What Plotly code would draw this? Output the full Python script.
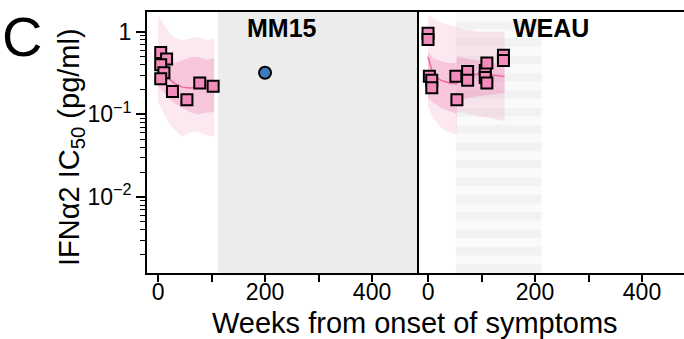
import plotly.graph_objects as go

# ---------------- data ----------------
# MM15 (left panel) measurements
mm15_weeks = [5, 16, 5, 11, 5, 27, 54, 78, 103]
mm15_ic50 = [0.56, 0.47, 0.40, 0.32, 0.27, 0.19, 0.15, 0.24, 0.22]
mm15_other_weeks = [200]
mm15_other_ic50 = [0.32]

# MM15 model bands
mm15_band_weeks = [0, 10, 20, 30, 45, 60, 75, 90, 105]
mm15_outer_hi = [1.58, 1.26, 1.00, 0.85, 0.79, 0.83, 0.87, 0.79, 0.83]
mm15_outer_lo = [0.141, 0.105, 0.079, 0.066, 0.054, 0.060, 0.062, 0.056, 0.054]
mm15_inner_hi = [0.63, 0.50, 0.43, 0.42, 0.45, 0.49, 0.50, 0.46, 0.48]
mm15_inner_lo = [0.22, 0.19, 0.158, 0.138, 0.120, 0.107, 0.100, 0.105, 0.107]
mm15_mean = [0.355, 0.31, 0.27, 0.24, 0.214, 0.209, 0.214, 0.224, 0.229]

# WEAU (right panel) measurements
weau_weeks = [0, 0, 2.5, 7, 7, 52, 54, 74, 74, 107, 110, 107, 110, 141, 141]
weau_ic50 = [0.96, 0.81, 0.29, 0.26, 0.21, 0.29, 0.15, 0.33, 0.26, 0.34, 0.42,
             0.28, 0.24, 0.52, 0.45]

# WEAU model bands
weau_band_weeks = [0, 10, 25, 40, 53, 55, 75, 95, 115, 143]
weau_outer_hi = [1.60, 1.45, 1.30, 1.20, 1.15, 1.10, 1.05, 1.00, 1.00, 1.00]
weau_outer_lo = [0.126, 0.089, 0.068, 0.060, 0.058, 0.107, 0.102, 0.095, 0.089, 0.083]
weau_inner_hi = [0.56, 0.48, 0.44, 0.42, 0.42, 0.50, 0.47, 0.45, 0.42, 0.40]
weau_inner_lo = [0.158, 0.138, 0.120, 0.110, 0.102, 0.148, 0.158, 0.166, 0.174, 0.182]
weau_mean = [0.50, 0.295, 0.257, 0.24, 0.234, 0.263, 0.295, 0.309, 0.302, 0.288]

# shaded periods (weeks)
mm15_grey_start = 112
weau_stripe_start = 52
weau_stripe_end = 212

panel_titles = ["MM15", "WEAU"]
x_tickvals = [0, 200, 400]
x_ticktext = ["0", "200", "400"]
x_minor_tickvals = [100, 300]
y_tickvals = [0.01, 0.1, 1]
y_ticktext = ["10<sup>\u22122</sup>", "10<sup>\u22121</sup>", "1"]

# ---------------- styling ----------------
FONT = "Liberation Sans, Arial, sans-serif"
PINK = "#f28cba"
PINK_LINE = "#ec6aa3"
OUTER_FILL = "rgba(236,100,160,0.15)"
INNER_FILL = "rgba(236,100,160,0.25)"
BLUE = "#3a7cc0"

X_RANGE_L = [-20.6, 484]
X_RANGE_R = [-20.6, 478.5]
Y_RANGE = [-2.92, 0.24]
split = 270 / 537

fig = go.Figure()


def add_band(x, lo, hi, color, xa, ya):
    fig.add_trace(go.Scatter(x=list(x) + list(x)[::-1], y=list(hi) + list(lo)[::-1],
                             fill="toself", fillcolor=color, mode="lines",
                             line=dict(width=0), hoverinfo="skip", showlegend=False,
                             xaxis=xa, yaxis=ya))


for (bx, olo, ohi, ilo, ihi, mn, xa, ya) in [
    (mm15_band_weeks, mm15_outer_lo, mm15_outer_hi, mm15_inner_lo, mm15_inner_hi, mm15_mean, "x", "y"),
    (weau_band_weeks, weau_outer_lo, weau_outer_hi, weau_inner_lo, weau_inner_hi, weau_mean, "x2", "y2"),
]:
    add_band(bx, olo, ohi, OUTER_FILL, xa, ya)
    add_band(bx, ilo, ihi, INNER_FILL, xa, ya)
    fig.add_trace(go.Scatter(x=bx, y=mn, mode="lines", line=dict(color=PINK_LINE, width=1.5),
                             showlegend=False, xaxis=xa, yaxis=ya))

sq = dict(symbol="square", size=11, color=PINK, line=dict(color="black", width=2))
fig.add_trace(go.Scatter(x=mm15_weeks, y=mm15_ic50, mode="markers", marker=sq,
                         showlegend=False, xaxis="x", yaxis="y"))
fig.add_trace(go.Scatter(x=mm15_other_weeks, y=mm15_other_ic50, mode="markers",
                         marker=dict(symbol="circle", size=12, color=BLUE,
                                     line=dict(color="black", width=2)),
                         showlegend=False, xaxis="x", yaxis="y"))
fig.add_trace(go.Scatter(x=weau_weeks, y=weau_ic50, mode="markers", marker=sq,
                         showlegend=False, xaxis="x2", yaxis="y2"))

shapes = [dict(type="rect", xref="x", yref="y domain", x0=mm15_grey_start, x1=X_RANGE_L[1],
               y0=0, y1=1, fillcolor="#ececec", line=dict(width=0), layer="below")]
n_stripes = 30
for k in range(n_stripes):
    shapes.append(dict(type="rect", xref="x2", yref="y2 domain", x0=weau_stripe_start,
                       x1=weau_stripe_end, y0=k / n_stripes, y1=(k + 1) / n_stripes,
                       fillcolor="#f2f2f2" if k % 2 == 0 else "#fafafa",
                       line=dict(width=0), layer="below"))

minor_vals = [m * 10 ** d for d in range(-3, 1) for m in range(2, 10)]

xaxis_common = dict(showgrid=False, zeroline=False, showline=True, linecolor="black",
                    linewidth=2, ticks="outside", ticklen=7, tickwidth=1.5, tickcolor="black",
                    tickfont=dict(family=FONT, size=23, color="black"),
                    tickmode="array", tickvals=x_tickvals, ticktext=x_ticktext,
                    ticklabelstandoff=-10, mirror=True,
                    minor=dict(tickmode="array", tickvals=x_minor_tickvals, ticks="outside",
                               ticklen=7, tickwidth=1.5, tickcolor="black", showgrid=False))

fig.update_layout(
    width=684, height=339,
    margin=dict(l=147, r=0, t=12, b=66),
    plot_bgcolor="white", paper_bgcolor="white",
    showlegend=False,
    shapes=shapes,
    xaxis=dict(domain=[0, split], range=X_RANGE_L, anchor="y", **xaxis_common),
    xaxis2=dict(domain=[split, 1], range=X_RANGE_R, anchor="y2", **xaxis_common),
    yaxis=dict(type="log", range=Y_RANGE, tickmode="array", tickvals=y_tickvals,
               ticktext=y_ticktext, mirror=True, anchor="x",
               showgrid=False, zeroline=False, showline=True, linecolor="black", linewidth=2,
               ticks="outside", ticklen=9, tickwidth=1.5, tickcolor="black",
               tickfont=dict(family=FONT, size=23, color="black"),
               minor=dict(tickmode="array", tickvals=minor_vals, ticks="outside", ticklen=5,
                          tickwidth=1.2, tickcolor="black", showgrid=False)),
    yaxis2=dict(type="log", range=Y_RANGE, anchor="x2", showgrid=False, zeroline=False,
                showline=False, showticklabels=False, ticks=""),
    annotations=[
        dict(text="C", xref="paper", yref="paper", x=-0.2328, y=0.905, showarrow=False,
             xanchor="center", yanchor="middle", font=dict(family=FONT, size=56, color="black")),
        dict(text="IFN\u03b12 IC<sub>50</sub> (pg/ml)", xref="paper", yref="paper", x=-0.142,
             y=0.482, showarrow=False, textangle=-90, xanchor="center", yanchor="middle",
             font=dict(family=FONT, size=29, color="black")),
        dict(text="Weeks from onset of symptoms", xref="paper", yref="paper", x=0.499,
             y=-0.192, showarrow=False, xanchor="center", yanchor="middle",
             font=dict(family=FONT, size=29, color="black")),
        dict(text="<b>%s</b>" % panel_titles[0], xref="x domain", yref="paper", x=0.5, y=0.939,
             showarrow=False, xanchor="center", yanchor="middle",
             font=dict(family=FONT, size=25, color="black")),
        dict(text="<b>%s</b>" % panel_titles[1], xref="x2 domain", yref="paper", x=0.5, y=0.939,
             showarrow=False, xanchor="center", yanchor="middle",
             font=dict(family=FONT, size=25, color="black")),
    ],
)

fig.write_html("out.html")
